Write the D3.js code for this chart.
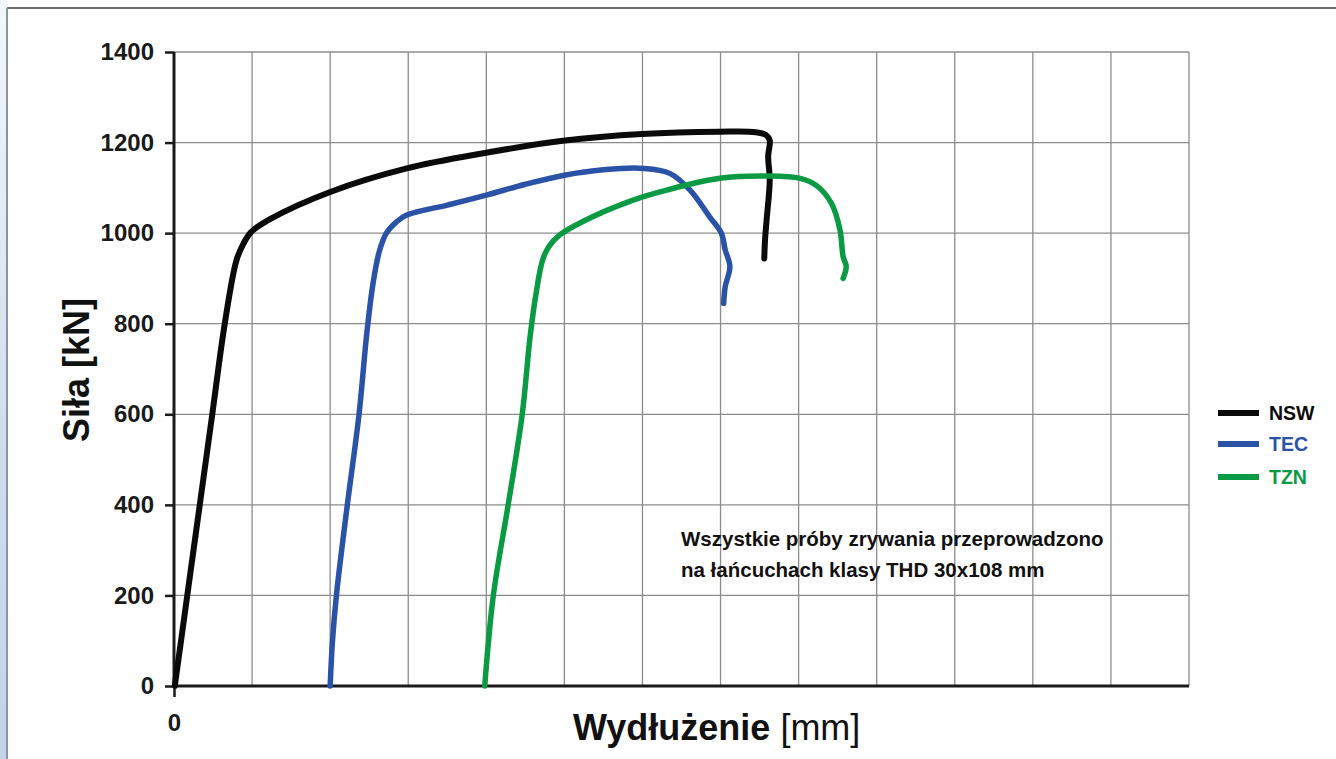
<!DOCTYPE html>
<html>
<head>
    <meta charset="utf-8">
    <title>Siła - Wydłużenie</title>
    <script src="https://d3js.org/d3.v7.min.js"></script>
    <style>
        body { margin: 0; background: #fff; }
        text { font-family: "Liberation Sans", Arial, sans-serif; }
    </style>
</head>
<body>
<script>
    var width = 1336, height = 759;

    // elongation in grid units (axis has no numeric labels except 0), force in kN
    var nswX = [0.01, 0.17, 0.33, 0.49, 0.65, 0.80, 0.89, 0.99, 1.23, 2.0, 2.98, 3.98, 4.98, 5.99, 6.99, 7.45, 7.58, 7.63, 7.61, 7.63, 7.59, 7.57, 7.56];
    var nswY = [0, 200, 400, 600, 800, 940, 977, 1003, 1031, 1091, 1143, 1177, 1204, 1219, 1224, 1223, 1217, 1205, 1170, 1117, 1029, 985, 944];

    var tecX = [2.0, 2.03, 2.08, 2.22, 2.37, 2.47, 2.55, 2.63, 2.72, 2.85, 2.98, 3.5, 4.0, 4.5, 5.0, 5.5, 6.01, 6.35, 6.61, 6.86, 7.01, 7.06, 7.12, 7.06, 7.04];
    var tecY = [0, 100, 200, 400, 600, 780, 890, 960, 1000, 1025, 1040, 1062, 1084, 1108, 1128, 1140, 1143, 1132, 1095, 1036, 1000, 963, 926, 882, 845];

    var tznX = [3.98, 4.09, 4.28, 4.46, 4.56, 4.64, 4.72, 4.80, 4.94, 5.25, 5.88, 6.31, 6.99, 7.59, 8.02, 8.23, 8.42, 8.53, 8.57, 8.61, 8.57];
    var tznY = [0, 200, 400, 600, 770, 870, 940, 970, 996, 1027, 1073, 1095, 1121, 1126, 1121, 1105, 1066, 1007, 948, 926, 900];

    var seriesNames = ["NSW", "TEC", "TZN"];
    var seriesColors = ["#0a0a0a", "#2a52a6", "#0a9a44"];
    var yTicks = [0, 200, 400, 600, 800, 1000, 1200, 1400];
    var xGrid = d3.range(0, 14);
    var note = ["Wszystkie próby zrywania przeprowadzono", "na łańcuchach klasy THD 30x108 mm"];

    var svg = d3.select("body").append("svg")
        .attr("width", width)
        .attr("height", height);

    // page frame: light blue strip on the left, grey border
    var defs = svg.append("defs");
    var strip = defs.append("linearGradient").attr("id", "strip")
        .attr("x1", 0).attr("y1", 0).attr("x2", 0).attr("y2", 1);
    strip.append("stop").attr("offset", "0%").attr("stop-color", "#f4f7fb");
    strip.append("stop").attr("offset", "60%").attr("stop-color", "#cfdcee");
    strip.append("stop").attr("offset", "100%").attr("stop-color", "#c2d4ea");
    svg.append("rect").attr("x", 0).attr("y", 0).attr("width", 7).attr("height", height)
        .attr("fill", "url(#strip)");
    svg.append("line").attr("x1", 7).attr("y1", 8).attr("x2", width).attr("y2", 8)
        .attr("stroke", "#6e6e6e").attr("stroke-width", 2);
    svg.append("line").attr("x1", 7).attr("y1", 8).attr("x2", 7).attr("y2", height)
        .attr("stroke", "#8a95a3").attr("stroke-width", 2);

    var x = d3.scaleLinear().domain([0, 13]).range([174, 1189]);
    var y = d3.scaleLinear().domain([0, 1400]).range([686, 52]);

    // grid
    svg.append("g").selectAll("line").data(yTicks.slice(1)).join("line")
        .attr("x1", x(0)).attr("x2", x(13))
        .attr("y1", d => y(d)).attr("y2", d => y(d))
        .attr("stroke", "#8c8c8c").attr("stroke-width", 1.3);
    svg.append("g").selectAll("line").data(xGrid.slice(1)).join("line")
        .attr("x1", d => x(d)).attr("x2", d => x(d))
        .attr("y1", y(0)).attr("y2", y(1400))
        .attr("stroke", "#8c8c8c").attr("stroke-width", 1.3);

    // axes
    var yAxis = svg.append("g").attr("transform", "translate(" + x(0) + ",0)")
        .call(d3.axisLeft(y).tickValues(yTicks).tickFormat(d3.format("d")).tickSize(9).tickPadding(11));
    var xAxis = svg.append("g").attr("transform", "translate(0," + y(0) + ")")
        .call(d3.axisBottom(x).tickValues([0]).tickFormat(d3.format("d")).tickSize(11).tickPadding(17));
    [yAxis, xAxis].forEach(function(g) {
        g.select(".domain").attr("stroke", "#1a1a1a").attr("stroke-width", 3);
        g.selectAll(".tick line").attr("stroke", "#1a1a1a").attr("stroke-width", 2.5);
        g.selectAll(".tick text").attr("fill", "#1a1a1a")
            .style("font-size", "24px").style("font-weight", "bold")
            .style("font-family", "'Liberation Sans', Arial, sans-serif");
    });
    yAxis.select(".domain").attr("d", "M0," + y(0) + "V" + y(1400));
    xAxis.select(".domain").attr("d", "M" + x(0) + ",0H" + x(13));

    // curves
    var line = d3.line()
        .x(d => x(d[0])).y(d => y(d[1]))
        .curve(d3.curveCatmullRom.alpha(0.5));
    var series = [d3.zip(nswX, nswY), d3.zip(tecX, tecY), d3.zip(tznX, tznY)];
    var widths = [6, 5.5, 5.5];
    series.forEach(function(pts, i) {
        svg.append("path")
            .attr("d", line(pts))
            .attr("fill", "none")
            .attr("stroke", seriesColors[i])
            .attr("stroke-width", widths[i])
            .attr("stroke-linecap", "round")
            .attr("stroke-linejoin", "round");
    });

    // axis titles
    svg.append("text")
        .attr("transform", "translate(89,370) rotate(-90)")
        .attr("text-anchor", "middle")
        .style("font-size", "36px").style("font-weight", "bold")
        .attr("fill", "#111")
        .text("Siła [kN]");

    var xt = svg.append("text")
        .attr("x", 573).attr("y", 740)
        .style("font-size", "36px")
        .attr("fill", "#111");
    xt.append("tspan").style("font-weight", "bold").text("Wydłużenie");
    xt.append("tspan").text(" [mm]");

    // note
    svg.append("g").selectAll("text").data(note).join("text")
        .attr("x", 681).attr("y", (d, i) => 546 + i * 31)
        .style("font-size", "20.5px").style("font-weight", "bold")
        .attr("fill", "#111")
        .text(d => d);

    // legend
    var legend = svg.append("g").selectAll("g").data(seriesNames).join("g")
        .attr("transform", (d, i) => "translate(1218," + [413, 444, 477][i] + ")");
    legend.append("line")
        .attr("x1", 0).attr("x2", 41)
        .attr("stroke", (d, i) => seriesColors[i])
        .attr("stroke-width", 6);
    legend.append("text")
        .attr("x", 51).attr("dy", "0.36em")
        .style("font-size", "19.5px").style("font-weight", "bold")
        .attr("fill", (d, i) => seriesColors[i])
        .text(d => d);
</script>
</body>
</html>
